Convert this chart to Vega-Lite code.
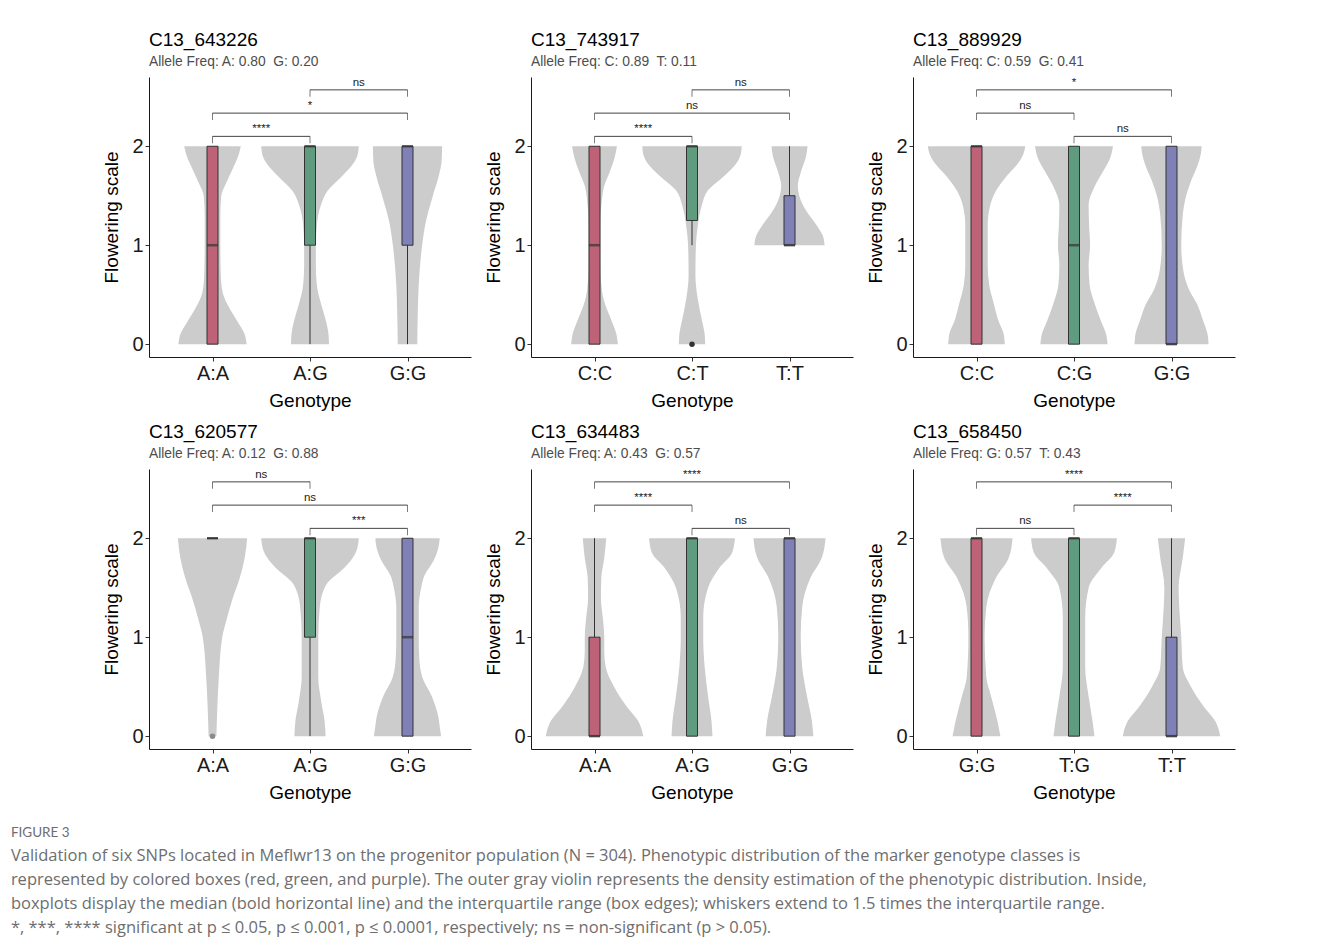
{
"$schema":"https://vega.github.io/schema/vega-lite/v6.json",
"padding":{"left":10,"top":31,"right":5,"bottom":5},
"background":"white",
"datasets":{
"violins":[
{"s":"C13_643226","g":1,"y":0,"l":0.65,"r":1.35},{"s":"C13_643226","g":1,"y":0.1,"l":0.67,"r":1.33},{"s":"C13_643226","g":1,"y":0.24,"l":0.75,"r":1.25},{"s":"C13_643226","g":1,"y":0.38,"l":0.835,"r":1.165},{"s":"C13_643226","g":1,"y":0.52,"l":0.895,"r":1.105},{"s":"C13_643226","g":1,"y":0.7,"l":0.915,"r":1.085},{"s":"C13_643226","g":1,"y":1,"l":0.92,"r":1.08},{"s":"C13_643226","g":1,"y":1.3,"l":0.92,"r":1.08},{"s":"C13_643226","g":1,"y":1.5,"l":0.91,"r":1.09},{"s":"C13_643226","g":1,"y":1.65,"l":0.85,"r":1.15},{"s":"C13_643226","g":1,"y":1.8,"l":0.78,"r":1.22},{"s":"C13_643226","g":1,"y":1.92,"l":0.73,"r":1.27},{"s":"C13_643226","g":1,"y":2,"l":0.71,"r":1.29},
{"s":"C13_643226","g":2,"y":0,"l":1.805,"r":2.195},{"s":"C13_643226","g":2,"y":0.1,"l":1.81,"r":2.19},{"s":"C13_643226","g":2,"y":0.25,"l":1.84,"r":2.16},{"s":"C13_643226","g":2,"y":0.4,"l":1.885,"r":2.115},{"s":"C13_643226","g":2,"y":0.6,"l":1.93,"r":2.07},{"s":"C13_643226","g":2,"y":0.8,"l":1.94,"r":2.06},{"s":"C13_643226","g":2,"y":1,"l":1.94,"r":2.06},{"s":"C13_643226","g":2,"y":1.2,"l":1.93,"r":2.07},{"s":"C13_643226","g":2,"y":1.4,"l":1.89,"r":2.11},{"s":"C13_643226","g":2,"y":1.55,"l":1.82,"r":2.18},{"s":"C13_643226","g":2,"y":1.7,"l":1.67,"r":2.33},{"s":"C13_643226","g":2,"y":1.82,"l":1.56,"r":2.44},{"s":"C13_643226","g":2,"y":1.92,"l":1.51,"r":2.49},{"s":"C13_643226","g":2,"y":2,"l":1.5,"r":2.5},
{"s":"C13_643226","g":3,"y":0,"l":2.9,"r":3.1},{"s":"C13_643226","g":3,"y":0.3,"l":2.895,"r":3.105},{"s":"C13_643226","g":3,"y":0.6,"l":2.885,"r":3.115},{"s":"C13_643226","g":3,"y":1,"l":2.85,"r":3.15},{"s":"C13_643226","g":3,"y":1.2,"l":2.82,"r":3.18},{"s":"C13_643226","g":3,"y":1.5,"l":2.74,"r":3.26},{"s":"C13_643226","g":3,"y":1.7,"l":2.68,"r":3.32},{"s":"C13_643226","g":3,"y":1.85,"l":2.65,"r":3.35},{"s":"C13_643226","g":3,"y":2,"l":2.645,"r":3.355},
{"s":"C13_743917","g":1,"y":0,"l":0.76,"r":1.24},{"s":"C13_743917","g":1,"y":0.1,"l":0.775,"r":1.225},{"s":"C13_743917","g":1,"y":0.25,"l":0.83,"r":1.17},{"s":"C13_743917","g":1,"y":0.4,"l":0.89,"r":1.11},{"s":"C13_743917","g":1,"y":0.55,"l":0.925,"r":1.075},{"s":"C13_743917","g":1,"y":0.8,"l":0.94,"r":1.06},{"s":"C13_743917","g":1,"y":1,"l":0.94,"r":1.06},{"s":"C13_743917","g":1,"y":1.2,"l":0.94,"r":1.06},{"s":"C13_743917","g":1,"y":1.45,"l":0.925,"r":1.075},{"s":"C13_743917","g":1,"y":1.6,"l":0.9,"r":1.1},{"s":"C13_743917","g":1,"y":1.75,"l":0.84,"r":1.16},{"s":"C13_743917","g":1,"y":1.9,"l":0.79,"r":1.21},{"s":"C13_743917","g":1,"y":2,"l":0.77,"r":1.23},
{"s":"C13_743917","g":2,"y":0,"l":1.865,"r":2.135},{"s":"C13_743917","g":2,"y":0.1,"l":1.87,"r":2.13},{"s":"C13_743917","g":2,"y":0.25,"l":1.9,"r":2.1},{"s":"C13_743917","g":2,"y":0.45,"l":1.94,"r":2.06},{"s":"C13_743917","g":2,"y":0.7,"l":1.965,"r":2.035},{"s":"C13_743917","g":2,"y":1,"l":1.96,"r":2.04},{"s":"C13_743917","g":2,"y":1.2,"l":1.94,"r":2.06},{"s":"C13_743917","g":2,"y":1.4,"l":1.9,"r":2.1},{"s":"C13_743917","g":2,"y":1.55,"l":1.84,"r":2.16},{"s":"C13_743917","g":2,"y":1.7,"l":1.67,"r":2.33},{"s":"C13_743917","g":2,"y":1.82,"l":1.55,"r":2.45},{"s":"C13_743917","g":2,"y":1.92,"l":1.5,"r":2.5},{"s":"C13_743917","g":2,"y":2,"l":1.49,"r":2.51},
{"s":"C13_743917","g":3,"y":1,"l":2.64,"r":3.36},{"s":"C13_743917","g":3,"y":1.1,"l":2.66,"r":3.34},{"s":"C13_743917","g":3,"y":1.2,"l":2.72,"r":3.28},{"s":"C13_743917","g":3,"y":1.35,"l":2.83,"r":3.17},{"s":"C13_743917","g":3,"y":1.5,"l":2.9,"r":3.1},{"s":"C13_743917","g":3,"y":1.6,"l":2.915,"r":3.085},{"s":"C13_743917","g":3,"y":1.75,"l":2.88,"r":3.12},{"s":"C13_743917","g":3,"y":1.9,"l":2.83,"r":3.17},{"s":"C13_743917","g":3,"y":2,"l":2.815,"r":3.185},
{"s":"C13_889929","g":1,"y":0,"l":0.71,"r":1.29},{"s":"C13_889929","g":1,"y":0.1,"l":0.72,"r":1.28},{"s":"C13_889929","g":1,"y":0.25,"l":0.78,"r":1.22},{"s":"C13_889929","g":1,"y":0.4,"l":0.82,"r":1.18},{"s":"C13_889929","g":1,"y":0.6,"l":0.87,"r":1.13},{"s":"C13_889929","g":1,"y":0.8,"l":0.885,"r":1.115},{"s":"C13_889929","g":1,"y":1,"l":0.885,"r":1.115},{"s":"C13_889929","g":1,"y":1.2,"l":0.885,"r":1.115},{"s":"C13_889929","g":1,"y":1.4,"l":0.86,"r":1.14},{"s":"C13_889929","g":1,"y":1.55,"l":0.8,"r":1.2},{"s":"C13_889929","g":1,"y":1.7,"l":0.69,"r":1.31},{"s":"C13_889929","g":1,"y":1.82,"l":0.58,"r":1.42},{"s":"C13_889929","g":1,"y":1.92,"l":0.52,"r":1.48},{"s":"C13_889929","g":1,"y":2,"l":0.5,"r":1.5},
{"s":"C13_889929","g":2,"y":0,"l":1.655,"r":2.345},{"s":"C13_889929","g":2,"y":0.1,"l":1.67,"r":2.33},{"s":"C13_889929","g":2,"y":0.25,"l":1.73,"r":2.27},{"s":"C13_889929","g":2,"y":0.4,"l":1.785,"r":2.215},{"s":"C13_889929","g":2,"y":0.6,"l":1.84,"r":2.16},{"s":"C13_889929","g":2,"y":0.8,"l":1.85,"r":2.15},{"s":"C13_889929","g":2,"y":1,"l":1.835,"r":2.165},{"s":"C13_889929","g":2,"y":1.2,"l":1.845,"r":2.155},{"s":"C13_889929","g":2,"y":1.4,"l":1.85,"r":2.15},{"s":"C13_889929","g":2,"y":1.6,"l":1.785,"r":2.215},{"s":"C13_889929","g":2,"y":1.75,"l":1.7,"r":2.3},{"s":"C13_889929","g":2,"y":1.88,"l":1.63,"r":2.37},{"s":"C13_889929","g":2,"y":2,"l":1.6,"r":2.4},
{"s":"C13_889929","g":3,"y":0,"l":2.62,"r":3.38},{"s":"C13_889929","g":3,"y":0.1,"l":2.63,"r":3.37},{"s":"C13_889929","g":3,"y":0.25,"l":2.68,"r":3.32},{"s":"C13_889929","g":3,"y":0.4,"l":2.735,"r":3.265},{"s":"C13_889929","g":3,"y":0.55,"l":2.82,"r":3.18},{"s":"C13_889929","g":3,"y":0.75,"l":2.88,"r":3.12},{"s":"C13_889929","g":3,"y":1,"l":2.9,"r":3.1},{"s":"C13_889929","g":3,"y":1.3,"l":2.885,"r":3.115},{"s":"C13_889929","g":3,"y":1.5,"l":2.85,"r":3.15},{"s":"C13_889929","g":3,"y":1.65,"l":2.8,"r":3.2},{"s":"C13_889929","g":3,"y":1.8,"l":2.735,"r":3.265},{"s":"C13_889929","g":3,"y":1.92,"l":2.7,"r":3.3},{"s":"C13_889929","g":3,"y":2,"l":2.69,"r":3.31},
{"s":"C13_620577","g":1,"y":0,"l":0.96,"r":1.04},{"s":"C13_620577","g":1,"y":0.3,"l":0.95,"r":1.05},{"s":"C13_620577","g":1,"y":0.6,"l":0.935,"r":1.065},{"s":"C13_620577","g":1,"y":1,"l":0.9,"r":1.1},{"s":"C13_620577","g":1,"y":1.2,"l":0.85,"r":1.15},{"s":"C13_620577","g":1,"y":1.4,"l":0.79,"r":1.21},{"s":"C13_620577","g":1,"y":1.6,"l":0.72,"r":1.28},{"s":"C13_620577","g":1,"y":1.8,"l":0.67,"r":1.33},{"s":"C13_620577","g":1,"y":2,"l":0.645,"r":1.355},
{"s":"C13_620577","g":2,"y":0,"l":1.84,"r":2.16},{"s":"C13_620577","g":2,"y":0.15,"l":1.85,"r":2.15},{"s":"C13_620577","g":2,"y":0.35,"l":1.885,"r":2.115},{"s":"C13_620577","g":2,"y":0.6,"l":1.915,"r":2.085},{"s":"C13_620577","g":2,"y":1,"l":1.915,"r":2.085},{"s":"C13_620577","g":2,"y":1.3,"l":1.9,"r":2.1},{"s":"C13_620577","g":2,"y":1.45,"l":1.87,"r":2.13},{"s":"C13_620577","g":2,"y":1.55,"l":1.82,"r":2.18},{"s":"C13_620577","g":2,"y":1.7,"l":1.65,"r":2.35},{"s":"C13_620577","g":2,"y":1.82,"l":1.55,"r":2.45},{"s":"C13_620577","g":2,"y":1.92,"l":1.51,"r":2.49},{"s":"C13_620577","g":2,"y":2,"l":1.5,"r":2.5},
{"s":"C13_620577","g":3,"y":0,"l":2.655,"r":3.345},{"s":"C13_620577","g":3,"y":0.1,"l":2.67,"r":3.33},{"s":"C13_620577","g":3,"y":0.2,"l":2.685,"r":3.315},{"s":"C13_620577","g":3,"y":0.4,"l":2.75,"r":3.25},{"s":"C13_620577","g":3,"y":0.6,"l":2.85,"r":3.15},{"s":"C13_620577","g":3,"y":0.8,"l":2.88,"r":3.12},{"s":"C13_620577","g":3,"y":1,"l":2.885,"r":3.115},{"s":"C13_620577","g":3,"y":1.3,"l":2.885,"r":3.115},{"s":"C13_620577","g":3,"y":1.5,"l":2.86,"r":3.14},{"s":"C13_620577","g":3,"y":1.6,"l":2.835,"r":3.165},{"s":"C13_620577","g":3,"y":1.8,"l":2.72,"r":3.28},{"s":"C13_620577","g":3,"y":1.92,"l":2.68,"r":3.32},{"s":"C13_620577","g":3,"y":2,"l":2.67,"r":3.33},
{"s":"C13_634483","g":1,"y":0,"l":0.5,"r":1.5},{"s":"C13_634483","g":1,"y":0.08,"l":0.52,"r":1.48},{"s":"C13_634483","g":1,"y":0.15,"l":0.55,"r":1.45},{"s":"C13_634483","g":1,"y":0.3,"l":0.67,"r":1.33},{"s":"C13_634483","g":1,"y":0.5,"l":0.8,"r":1.2},{"s":"C13_634483","g":1,"y":0.7,"l":0.885,"r":1.115},{"s":"C13_634483","g":1,"y":0.85,"l":0.9,"r":1.1},{"s":"C13_634483","g":1,"y":1,"l":0.9,"r":1.1},{"s":"C13_634483","g":1,"y":1.15,"l":0.91,"r":1.09},{"s":"C13_634483","g":1,"y":1.4,"l":0.934,"r":1.066},{"s":"C13_634483","g":1,"y":1.6,"l":0.93,"r":1.07},{"s":"C13_634483","g":1,"y":1.8,"l":0.9,"r":1.1},{"s":"C13_634483","g":1,"y":2,"l":0.88,"r":1.12},
{"s":"C13_634483","g":2,"y":0,"l":1.79,"r":2.21},{"s":"C13_634483","g":2,"y":0.15,"l":1.8,"r":2.2},{"s":"C13_634483","g":2,"y":0.4,"l":1.835,"r":2.165},{"s":"C13_634483","g":2,"y":0.7,"l":1.87,"r":2.13},{"s":"C13_634483","g":2,"y":1,"l":1.885,"r":2.115},{"s":"C13_634483","g":2,"y":1.2,"l":1.885,"r":2.115},{"s":"C13_634483","g":2,"y":1.5,"l":1.835,"r":2.165},{"s":"C13_634483","g":2,"y":1.7,"l":1.72,"r":2.28},{"s":"C13_634483","g":2,"y":1.85,"l":1.59,"r":2.41},{"s":"C13_634483","g":2,"y":2,"l":1.56,"r":2.44},
{"s":"C13_634483","g":3,"y":0,"l":2.755,"r":3.245},{"s":"C13_634483","g":3,"y":0.15,"l":2.77,"r":3.23},{"s":"C13_634483","g":3,"y":0.4,"l":2.82,"r":3.18},{"s":"C13_634483","g":3,"y":0.7,"l":2.87,"r":3.13},{"s":"C13_634483","g":3,"y":1,"l":2.885,"r":3.115},{"s":"C13_634483","g":3,"y":1.3,"l":2.87,"r":3.13},{"s":"C13_634483","g":3,"y":1.6,"l":2.785,"r":3.215},{"s":"C13_634483","g":3,"y":1.8,"l":2.67,"r":3.33},{"s":"C13_634483","g":3,"y":2,"l":2.63,"r":3.37},
{"s":"C13_658450","g":1,"y":0,"l":0.755,"r":1.245},{"s":"C13_658450","g":1,"y":0.15,"l":0.785,"r":1.215},{"s":"C13_658450","g":1,"y":0.4,"l":0.85,"r":1.15},{"s":"C13_658450","g":1,"y":0.6,"l":0.9,"r":1.1},{"s":"C13_658450","g":1,"y":1,"l":0.917,"r":1.083},{"s":"C13_658450","g":1,"y":1.3,"l":0.9,"r":1.1},{"s":"C13_658450","g":1,"y":1.6,"l":0.8,"r":1.2},{"s":"C13_658450","g":1,"y":1.8,"l":0.67,"r":1.33},{"s":"C13_658450","g":1,"y":2,"l":0.63,"r":1.37},
{"s":"C13_658450","g":2,"y":0,"l":1.79,"r":2.21},{"s":"C13_658450","g":2,"y":0.15,"l":1.81,"r":2.19},{"s":"C13_658450","g":2,"y":0.4,"l":1.85,"r":2.15},{"s":"C13_658450","g":2,"y":0.7,"l":1.885,"r":2.115},{"s":"C13_658450","g":2,"y":1,"l":1.885,"r":2.115},{"s":"C13_658450","g":2,"y":1.2,"l":1.885,"r":2.115},{"s":"C13_658450","g":2,"y":1.5,"l":1.85,"r":2.15},{"s":"C13_658450","g":2,"y":1.7,"l":1.72,"r":2.28},{"s":"C13_658450","g":2,"y":1.85,"l":1.59,"r":2.41},{"s":"C13_658450","g":2,"y":2,"l":1.56,"r":2.44},
{"s":"C13_658450","g":3,"y":0,"l":2.5,"r":3.5},{"s":"C13_658450","g":3,"y":0.08,"l":2.52,"r":3.48},{"s":"C13_658450","g":3,"y":0.15,"l":2.55,"r":3.45},{"s":"C13_658450","g":3,"y":0.3,"l":2.67,"r":3.33},{"s":"C13_658450","g":3,"y":0.5,"l":2.8,"r":3.2},{"s":"C13_658450","g":3,"y":0.7,"l":2.885,"r":3.115},{"s":"C13_658450","g":3,"y":1,"l":2.9,"r":3.1},{"s":"C13_658450","g":3,"y":1.3,"l":2.92,"r":3.08},{"s":"C13_658450","g":3,"y":1.5,"l":2.927,"r":3.073},{"s":"C13_658450","g":3,"y":1.8,"l":2.885,"r":3.115},{"s":"C13_658450","g":3,"y":2,"l":2.86,"r":3.14}
],
"boxes":[
{"s":"C13_643226","g":1,"q1":0,"med":1,"q3":2,"lo":0,"hi":2},{"s":"C13_643226","g":2,"q1":1,"med":2,"q3":2,"lo":0,"hi":2},{"s":"C13_643226","g":3,"q1":1,"med":2,"q3":2,"lo":0,"hi":2},
{"s":"C13_743917","g":1,"q1":0,"med":1,"q3":2,"lo":0,"hi":2},{"s":"C13_743917","g":2,"q1":1.25,"med":2,"q3":2,"lo":1,"hi":2},{"s":"C13_743917","g":3,"q1":1,"med":1,"q3":1.5,"lo":1,"hi":2},
{"s":"C13_889929","g":1,"q1":0,"med":2,"q3":2,"lo":0,"hi":2},{"s":"C13_889929","g":2,"q1":0,"med":1,"q3":2,"lo":0,"hi":2},{"s":"C13_889929","g":3,"q1":0,"med":0,"q3":2,"lo":0,"hi":2},
{"s":"C13_620577","g":1,"q1":2,"med":2,"q3":2,"lo":2,"hi":2},{"s":"C13_620577","g":2,"q1":1,"med":2,"q3":2,"lo":0,"hi":2},{"s":"C13_620577","g":3,"q1":0,"med":1,"q3":2,"lo":0,"hi":2},
{"s":"C13_634483","g":1,"q1":0,"med":0,"q3":1,"lo":0,"hi":2},{"s":"C13_634483","g":2,"q1":0,"med":2,"q3":2,"lo":0,"hi":2},{"s":"C13_634483","g":3,"q1":0,"med":2,"q3":2,"lo":0,"hi":2},
{"s":"C13_658450","g":1,"q1":0,"med":2,"q3":2,"lo":0,"hi":2},{"s":"C13_658450","g":2,"q1":0,"med":2,"q3":2,"lo":0,"hi":2},{"s":"C13_658450","g":3,"q1":0,"med":0,"q3":1,"lo":0,"hi":2}
],
"outliers":[
{"s":"C13_743917","g":2,"v":0},{"s":"C13_620577","g":1,"v":0}
],
"brackets":[
{"s":"C13_643226","a":1,"b":2,"m":1.5,"y":2.1,"lab":"****"},{"s":"C13_643226","a":1,"b":3,"m":2,"y":2.335,"lab":"*"},{"s":"C13_643226","a":2,"b":3,"m":2.5,"y":2.57,"lab":"ns"},
{"s":"C13_743917","a":1,"b":2,"m":1.5,"y":2.1,"lab":"****"},{"s":"C13_743917","a":1,"b":3,"m":2,"y":2.335,"lab":"ns"},{"s":"C13_743917","a":2,"b":3,"m":2.5,"y":2.57,"lab":"ns"},
{"s":"C13_889929","a":2,"b":3,"m":2.5,"y":2.1,"lab":"ns"},{"s":"C13_889929","a":1,"b":2,"m":1.5,"y":2.335,"lab":"ns"},{"s":"C13_889929","a":1,"b":3,"m":2,"y":2.57,"lab":"*"},
{"s":"C13_620577","a":2,"b":3,"m":2.5,"y":2.1,"lab":"***"},{"s":"C13_620577","a":1,"b":3,"m":2,"y":2.335,"lab":"ns"},{"s":"C13_620577","a":1,"b":2,"m":1.5,"y":2.57,"lab":"ns"},
{"s":"C13_634483","a":2,"b":3,"m":2.5,"y":2.1,"lab":"ns"},{"s":"C13_634483","a":1,"b":2,"m":1.5,"y":2.335,"lab":"****"},{"s":"C13_634483","a":1,"b":3,"m":2,"y":2.57,"lab":"****"},
{"s":"C13_658450","a":1,"b":2,"m":1.5,"y":2.1,"lab":"ns"},{"s":"C13_658450","a":2,"b":3,"m":2.5,"y":2.335,"lab":"****"},{"s":"C13_658450","a":1,"b":3,"m":2,"y":2.57,"lab":"****"}
]
},
"title":{
"text":"FIGURE 3",
"subtitle":[
"Validation of six SNPs located in Meflwr13 on the progenitor population (N = 304). Phenotypic distribution of the marker genotype classes is",
"represented by colored boxes (red, green, and purple). The outer gray violin represents the density estimation of the phenotypic distribution. Inside,",
"boxplots display the median (bold horizontal line) and the interquartile range (box edges); whiskers extend to 1.5 times the interquartile range.",
"*, ***, **** significant at p ≤ 0.05, p ≤ 0.001, p ≤ 0.0001, respectively; ns = non-significant (p > 0.05)."
],
"orient":"bottom","anchor":"start","frame":"bounds","dx":-92,"offset":24,
"font":"Lato","fontSize":13.5,"fontWeight":"normal","color":"#6e6e6e",
"subtitleFont":"Open Sans","subtitleFontSize":16.5,"subtitleColor":"#6e6e6e","subtitleLineHeight":24,"subtitlePadding":8
},
"columns":3,
"bounds":"flush",
"spacing":{"row":112,"column":60},
"concat":[
{"width":322,"height":280,
"title":{"text":"C13_643226","subtitle":"Allele Freq: A: 0.80\u00a0 G: 0.20"},
"layer":[
{"data":{"name":"violins"},"transform":[{"filter":"datum.s=='C13_643226'"}],"mark":{"type":"area","orient":"horizontal","interpolate":"monotone","color":"#cccccc"},
"encoding":{"x":{"field":"l","type":"quantitative","scale":{"domain":[0.4,3.6],"nice":false,"zero":false},"axis":{"title":"Genotype","values":[1,2,3],"labelExpr":"datum.value==1?'A:A':datum.value==2?'A:G':'G:G'"}},"x2":{"field":"r"},"y":{"field":"y","type":"quantitative","scale":{"domain":[-0.13,2.7],"nice":false,"zero":false},"axis":{"title":"Flowering scale","values":[0,1,2],"format":"d"}},"detail":{"field":"g","type":"nominal"}}},
{"data":{"name":"boxes"},"transform":[{"filter":"datum.s=='C13_643226'"}],"mark":{"type":"rule","color":"#333333","strokeWidth":1},"encoding":{"x":{"field":"g","type":"quantitative"},"y":{"field":"lo","type":"quantitative"},"y2":{"field":"hi"}}},
{"data":{"name":"boxes"},"transform":[{"filter":"datum.s=='C13_643226'"}],"mark":{"type":"bar","orient":"vertical","width":11,"stroke":"#333333","strokeWidth":1},"encoding":{"x":{"field":"g","type":"quantitative"},"y":{"field":"q1","type":"quantitative"},"y2":{"field":"q3"},"fill":{"field":"g","type":"nominal","scale":{"domain":[1,2,3],"range":["#BD6277","#5F9C7F","#7F81B6"]},"legend":null}}},
{"data":{"name":"boxes"},"transform":[{"filter":"datum.s=='C13_643226'"}],"mark":{"type":"tick","orient":"horizontal","size":11,"thickness":2.5,"color":"#333333"},"encoding":{"x":{"field":"g","type":"quantitative"},"y":{"field":"med","type":"quantitative"}}},
{"data":{"name":"brackets"},"transform":[{"filter":"datum.s=='C13_643226'"}],"mark":{"type":"rule","color":"#444444","strokeWidth":1},"encoding":{"x":{"field":"a","type":"quantitative"},"x2":{"field":"b"},"y":{"field":"y","type":"quantitative"}}},
{"data":{"name":"brackets"},"transform":[{"filter":"datum.s=='C13_643226'"}],"mark":{"type":"tick","orient":"vertical","size":7,"thickness":1,"yOffset":3.5,"color":"#444444"},"encoding":{"x":{"field":"a","type":"quantitative"},"y":{"field":"y","type":"quantitative"}}},
{"data":{"name":"brackets"},"transform":[{"filter":"datum.s=='C13_643226'"}],"mark":{"type":"tick","orient":"vertical","size":7,"thickness":1,"yOffset":3.5,"color":"#444444"},"encoding":{"x":{"field":"b","type":"quantitative"},"y":{"field":"y","type":"quantitative"}}},
{"data":{"name":"brackets"},"transform":[{"filter":"datum.s=='C13_643226'"}],"mark":{"type":"text","baseline":"bottom","dy":-2,"fontSize":11.5,"color":"#222222"},"encoding":{"x":{"field":"m","type":"quantitative"},"y":{"field":"y","type":"quantitative"},"text":{"field":"lab"}}}
]},
{"width":322,"height":280,
"title":{"text":"C13_743917","subtitle":"Allele Freq: C: 0.89\u00a0 T: 0.11"},
"layer":[
{"data":{"name":"violins"},"transform":[{"filter":"datum.s=='C13_743917'"}],"mark":{"type":"area","orient":"horizontal","interpolate":"monotone","color":"#cccccc"},
"encoding":{"x":{"field":"l","type":"quantitative","scale":{"domain":[0.4,3.6],"nice":false,"zero":false},"axis":{"title":"Genotype","values":[1,2,3],"labelExpr":"datum.value==1?'C:C':datum.value==2?'C:T':'T:T'"}},"x2":{"field":"r"},"y":{"field":"y","type":"quantitative","scale":{"domain":[-0.13,2.7],"nice":false,"zero":false},"axis":{"title":"Flowering scale","values":[0,1,2],"format":"d"}},"detail":{"field":"g","type":"nominal"}}},
{"data":{"name":"boxes"},"transform":[{"filter":"datum.s=='C13_743917'"}],"mark":{"type":"rule","color":"#333333","strokeWidth":1},"encoding":{"x":{"field":"g","type":"quantitative"},"y":{"field":"lo","type":"quantitative"},"y2":{"field":"hi"}}},
{"data":{"name":"boxes"},"transform":[{"filter":"datum.s=='C13_743917'"}],"mark":{"type":"bar","orient":"vertical","width":11,"stroke":"#333333","strokeWidth":1},"encoding":{"x":{"field":"g","type":"quantitative"},"y":{"field":"q1","type":"quantitative"},"y2":{"field":"q3"},"fill":{"field":"g","type":"nominal","scale":{"domain":[1,2,3],"range":["#BD6277","#5F9C7F","#7F81B6"]},"legend":null}}},
{"data":{"name":"boxes"},"transform":[{"filter":"datum.s=='C13_743917'"}],"mark":{"type":"tick","orient":"horizontal","size":11,"thickness":2.5,"color":"#333333"},"encoding":{"x":{"field":"g","type":"quantitative"},"y":{"field":"med","type":"quantitative"}}},
{"data":{"name":"outliers"},"transform":[{"filter":"datum.s=='C13_743917'"}],"mark":{"type":"point","filled":true,"size":30,"opacity":1,"color":"#333333"},"encoding":{"x":{"field":"g","type":"quantitative"},"y":{"field":"v","type":"quantitative"}}},
{"data":{"name":"brackets"},"transform":[{"filter":"datum.s=='C13_743917'"}],"mark":{"type":"rule","color":"#444444","strokeWidth":1},"encoding":{"x":{"field":"a","type":"quantitative"},"x2":{"field":"b"},"y":{"field":"y","type":"quantitative"}}},
{"data":{"name":"brackets"},"transform":[{"filter":"datum.s=='C13_743917'"}],"mark":{"type":"tick","orient":"vertical","size":7,"thickness":1,"yOffset":3.5,"color":"#444444"},"encoding":{"x":{"field":"a","type":"quantitative"},"y":{"field":"y","type":"quantitative"}}},
{"data":{"name":"brackets"},"transform":[{"filter":"datum.s=='C13_743917'"}],"mark":{"type":"tick","orient":"vertical","size":7,"thickness":1,"yOffset":3.5,"color":"#444444"},"encoding":{"x":{"field":"b","type":"quantitative"},"y":{"field":"y","type":"quantitative"}}},
{"data":{"name":"brackets"},"transform":[{"filter":"datum.s=='C13_743917'"}],"mark":{"type":"text","baseline":"bottom","dy":-2,"fontSize":11.5,"color":"#222222"},"encoding":{"x":{"field":"m","type":"quantitative"},"y":{"field":"y","type":"quantitative"},"text":{"field":"lab"}}}
]},
{"width":322,"height":280,
"title":{"text":"C13_889929","subtitle":"Allele Freq: C: 0.59\u00a0 G: 0.41"},
"layer":[
{"data":{"name":"violins"},"transform":[{"filter":"datum.s=='C13_889929'"}],"mark":{"type":"area","orient":"horizontal","interpolate":"monotone","color":"#cccccc"},
"encoding":{"x":{"field":"l","type":"quantitative","scale":{"domain":[0.4,3.6],"nice":false,"zero":false},"axis":{"title":"Genotype","values":[1,2,3],"labelExpr":"datum.value==1?'C:C':datum.value==2?'C:G':'G:G'"}},"x2":{"field":"r"},"y":{"field":"y","type":"quantitative","scale":{"domain":[-0.13,2.7],"nice":false,"zero":false},"axis":{"title":"Flowering scale","values":[0,1,2],"format":"d"}},"detail":{"field":"g","type":"nominal"}}},
{"data":{"name":"boxes"},"transform":[{"filter":"datum.s=='C13_889929'"}],"mark":{"type":"rule","color":"#333333","strokeWidth":1},"encoding":{"x":{"field":"g","type":"quantitative"},"y":{"field":"lo","type":"quantitative"},"y2":{"field":"hi"}}},
{"data":{"name":"boxes"},"transform":[{"filter":"datum.s=='C13_889929'"}],"mark":{"type":"bar","orient":"vertical","width":11,"stroke":"#333333","strokeWidth":1},"encoding":{"x":{"field":"g","type":"quantitative"},"y":{"field":"q1","type":"quantitative"},"y2":{"field":"q3"},"fill":{"field":"g","type":"nominal","scale":{"domain":[1,2,3],"range":["#BD6277","#5F9C7F","#7F81B6"]},"legend":null}}},
{"data":{"name":"boxes"},"transform":[{"filter":"datum.s=='C13_889929'"}],"mark":{"type":"tick","orient":"horizontal","size":11,"thickness":2.5,"color":"#333333"},"encoding":{"x":{"field":"g","type":"quantitative"},"y":{"field":"med","type":"quantitative"}}},
{"data":{"name":"brackets"},"transform":[{"filter":"datum.s=='C13_889929'"}],"mark":{"type":"rule","color":"#444444","strokeWidth":1},"encoding":{"x":{"field":"a","type":"quantitative"},"x2":{"field":"b"},"y":{"field":"y","type":"quantitative"}}},
{"data":{"name":"brackets"},"transform":[{"filter":"datum.s=='C13_889929'"}],"mark":{"type":"tick","orient":"vertical","size":7,"thickness":1,"yOffset":3.5,"color":"#444444"},"encoding":{"x":{"field":"a","type":"quantitative"},"y":{"field":"y","type":"quantitative"}}},
{"data":{"name":"brackets"},"transform":[{"filter":"datum.s=='C13_889929'"}],"mark":{"type":"tick","orient":"vertical","size":7,"thickness":1,"yOffset":3.5,"color":"#444444"},"encoding":{"x":{"field":"b","type":"quantitative"},"y":{"field":"y","type":"quantitative"}}},
{"data":{"name":"brackets"},"transform":[{"filter":"datum.s=='C13_889929'"}],"mark":{"type":"text","baseline":"bottom","dy":-2,"fontSize":11.5,"color":"#222222"},"encoding":{"x":{"field":"m","type":"quantitative"},"y":{"field":"y","type":"quantitative"},"text":{"field":"lab"}}}
]},
{"width":322,"height":280,
"title":{"text":"C13_620577","subtitle":"Allele Freq: A: 0.12\u00a0 G: 0.88"},
"layer":[
{"data":{"name":"violins"},"transform":[{"filter":"datum.s=='C13_620577'"}],"mark":{"type":"area","orient":"horizontal","interpolate":"monotone","color":"#cccccc"},
"encoding":{"x":{"field":"l","type":"quantitative","scale":{"domain":[0.4,3.6],"nice":false,"zero":false},"axis":{"title":"Genotype","values":[1,2,3],"labelExpr":"datum.value==1?'A:A':datum.value==2?'A:G':'G:G'"}},"x2":{"field":"r"},"y":{"field":"y","type":"quantitative","scale":{"domain":[-0.13,2.7],"nice":false,"zero":false},"axis":{"title":"Flowering scale","values":[0,1,2],"format":"d"}},"detail":{"field":"g","type":"nominal"}}},
{"data":{"name":"boxes"},"transform":[{"filter":"datum.s=='C13_620577'"}],"mark":{"type":"rule","color":"#333333","strokeWidth":1},"encoding":{"x":{"field":"g","type":"quantitative"},"y":{"field":"lo","type":"quantitative"},"y2":{"field":"hi"}}},
{"data":{"name":"boxes"},"transform":[{"filter":"datum.s=='C13_620577'"}],"mark":{"type":"bar","orient":"vertical","width":11,"stroke":"#333333","strokeWidth":1},"encoding":{"x":{"field":"g","type":"quantitative"},"y":{"field":"q1","type":"quantitative"},"y2":{"field":"q3"},"fill":{"field":"g","type":"nominal","scale":{"domain":[1,2,3],"range":["#BD6277","#5F9C7F","#7F81B6"]},"legend":null}}},
{"data":{"name":"boxes"},"transform":[{"filter":"datum.s=='C13_620577'"}],"mark":{"type":"tick","orient":"horizontal","size":11,"thickness":2.5,"color":"#333333"},"encoding":{"x":{"field":"g","type":"quantitative"},"y":{"field":"med","type":"quantitative"}}},
{"data":{"name":"outliers"},"transform":[{"filter":"datum.s=='C13_620577'"}],"mark":{"type":"point","filled":true,"size":30,"opacity":1,"color":"#8a8a8a"},"encoding":{"x":{"field":"g","type":"quantitative"},"y":{"field":"v","type":"quantitative"}}},
{"data":{"name":"brackets"},"transform":[{"filter":"datum.s=='C13_620577'"}],"mark":{"type":"rule","color":"#444444","strokeWidth":1},"encoding":{"x":{"field":"a","type":"quantitative"},"x2":{"field":"b"},"y":{"field":"y","type":"quantitative"}}},
{"data":{"name":"brackets"},"transform":[{"filter":"datum.s=='C13_620577'"}],"mark":{"type":"tick","orient":"vertical","size":7,"thickness":1,"yOffset":3.5,"color":"#444444"},"encoding":{"x":{"field":"a","type":"quantitative"},"y":{"field":"y","type":"quantitative"}}},
{"data":{"name":"brackets"},"transform":[{"filter":"datum.s=='C13_620577'"}],"mark":{"type":"tick","orient":"vertical","size":7,"thickness":1,"yOffset":3.5,"color":"#444444"},"encoding":{"x":{"field":"b","type":"quantitative"},"y":{"field":"y","type":"quantitative"}}},
{"data":{"name":"brackets"},"transform":[{"filter":"datum.s=='C13_620577'"}],"mark":{"type":"text","baseline":"bottom","dy":-2,"fontSize":11.5,"color":"#222222"},"encoding":{"x":{"field":"m","type":"quantitative"},"y":{"field":"y","type":"quantitative"},"text":{"field":"lab"}}}
]},
{"width":322,"height":280,
"title":{"text":"C13_634483","subtitle":"Allele Freq: A: 0.43\u00a0 G: 0.57"},
"layer":[
{"data":{"name":"violins"},"transform":[{"filter":"datum.s=='C13_634483'"}],"mark":{"type":"area","orient":"horizontal","interpolate":"monotone","color":"#cccccc"},
"encoding":{"x":{"field":"l","type":"quantitative","scale":{"domain":[0.4,3.6],"nice":false,"zero":false},"axis":{"title":"Genotype","values":[1,2,3],"labelExpr":"datum.value==1?'A:A':datum.value==2?'A:G':'G:G'"}},"x2":{"field":"r"},"y":{"field":"y","type":"quantitative","scale":{"domain":[-0.13,2.7],"nice":false,"zero":false},"axis":{"title":"Flowering scale","values":[0,1,2],"format":"d"}},"detail":{"field":"g","type":"nominal"}}},
{"data":{"name":"boxes"},"transform":[{"filter":"datum.s=='C13_634483'"}],"mark":{"type":"rule","color":"#333333","strokeWidth":1},"encoding":{"x":{"field":"g","type":"quantitative"},"y":{"field":"lo","type":"quantitative"},"y2":{"field":"hi"}}},
{"data":{"name":"boxes"},"transform":[{"filter":"datum.s=='C13_634483'"}],"mark":{"type":"bar","orient":"vertical","width":11,"stroke":"#333333","strokeWidth":1},"encoding":{"x":{"field":"g","type":"quantitative"},"y":{"field":"q1","type":"quantitative"},"y2":{"field":"q3"},"fill":{"field":"g","type":"nominal","scale":{"domain":[1,2,3],"range":["#BD6277","#5F9C7F","#7F81B6"]},"legend":null}}},
{"data":{"name":"boxes"},"transform":[{"filter":"datum.s=='C13_634483'"}],"mark":{"type":"tick","orient":"horizontal","size":11,"thickness":2.5,"color":"#333333"},"encoding":{"x":{"field":"g","type":"quantitative"},"y":{"field":"med","type":"quantitative"}}},
{"data":{"name":"brackets"},"transform":[{"filter":"datum.s=='C13_634483'"}],"mark":{"type":"rule","color":"#444444","strokeWidth":1},"encoding":{"x":{"field":"a","type":"quantitative"},"x2":{"field":"b"},"y":{"field":"y","type":"quantitative"}}},
{"data":{"name":"brackets"},"transform":[{"filter":"datum.s=='C13_634483'"}],"mark":{"type":"tick","orient":"vertical","size":7,"thickness":1,"yOffset":3.5,"color":"#444444"},"encoding":{"x":{"field":"a","type":"quantitative"},"y":{"field":"y","type":"quantitative"}}},
{"data":{"name":"brackets"},"transform":[{"filter":"datum.s=='C13_634483'"}],"mark":{"type":"tick","orient":"vertical","size":7,"thickness":1,"yOffset":3.5,"color":"#444444"},"encoding":{"x":{"field":"b","type":"quantitative"},"y":{"field":"y","type":"quantitative"}}},
{"data":{"name":"brackets"},"transform":[{"filter":"datum.s=='C13_634483'"}],"mark":{"type":"text","baseline":"bottom","dy":-2,"fontSize":11.5,"color":"#222222"},"encoding":{"x":{"field":"m","type":"quantitative"},"y":{"field":"y","type":"quantitative"},"text":{"field":"lab"}}}
]},
{"width":322,"height":280,
"title":{"text":"C13_658450","subtitle":"Allele Freq: G: 0.57\u00a0 T: 0.43"},
"layer":[
{"data":{"name":"violins"},"transform":[{"filter":"datum.s=='C13_658450'"}],"mark":{"type":"area","orient":"horizontal","interpolate":"monotone","color":"#cccccc"},
"encoding":{"x":{"field":"l","type":"quantitative","scale":{"domain":[0.4,3.6],"nice":false,"zero":false},"axis":{"title":"Genotype","values":[1,2,3],"labelExpr":"datum.value==1?'G:G':datum.value==2?'T:G':'T:T'"}},"x2":{"field":"r"},"y":{"field":"y","type":"quantitative","scale":{"domain":[-0.13,2.7],"nice":false,"zero":false},"axis":{"title":"Flowering scale","values":[0,1,2],"format":"d"}},"detail":{"field":"g","type":"nominal"}}},
{"data":{"name":"boxes"},"transform":[{"filter":"datum.s=='C13_658450'"}],"mark":{"type":"rule","color":"#333333","strokeWidth":1},"encoding":{"x":{"field":"g","type":"quantitative"},"y":{"field":"lo","type":"quantitative"},"y2":{"field":"hi"}}},
{"data":{"name":"boxes"},"transform":[{"filter":"datum.s=='C13_658450'"}],"mark":{"type":"bar","orient":"vertical","width":11,"stroke":"#333333","strokeWidth":1},"encoding":{"x":{"field":"g","type":"quantitative"},"y":{"field":"q1","type":"quantitative"},"y2":{"field":"q3"},"fill":{"field":"g","type":"nominal","scale":{"domain":[1,2,3],"range":["#BD6277","#5F9C7F","#7F81B6"]},"legend":null}}},
{"data":{"name":"boxes"},"transform":[{"filter":"datum.s=='C13_658450'"}],"mark":{"type":"tick","orient":"horizontal","size":11,"thickness":2.5,"color":"#333333"},"encoding":{"x":{"field":"g","type":"quantitative"},"y":{"field":"med","type":"quantitative"}}},
{"data":{"name":"brackets"},"transform":[{"filter":"datum.s=='C13_658450'"}],"mark":{"type":"rule","color":"#444444","strokeWidth":1},"encoding":{"x":{"field":"a","type":"quantitative"},"x2":{"field":"b"},"y":{"field":"y","type":"quantitative"}}},
{"data":{"name":"brackets"},"transform":[{"filter":"datum.s=='C13_658450'"}],"mark":{"type":"tick","orient":"vertical","size":7,"thickness":1,"yOffset":3.5,"color":"#444444"},"encoding":{"x":{"field":"a","type":"quantitative"},"y":{"field":"y","type":"quantitative"}}},
{"data":{"name":"brackets"},"transform":[{"filter":"datum.s=='C13_658450'"}],"mark":{"type":"tick","orient":"vertical","size":7,"thickness":1,"yOffset":3.5,"color":"#444444"},"encoding":{"x":{"field":"b","type":"quantitative"},"y":{"field":"y","type":"quantitative"}}},
{"data":{"name":"brackets"},"transform":[{"filter":"datum.s=='C13_658450'"}],"mark":{"type":"text","baseline":"bottom","dy":-2,"fontSize":11.5,"color":"#222222"},"encoding":{"x":{"field":"m","type":"quantitative"},"y":{"field":"y","type":"quantitative"},"text":{"field":"lab"}}}
]}
],
"config":{
"view":{"stroke":null},
"font":"Liberation Sans",
"axis":{"grid":false,"domainColor":"#1a1a1a","tickColor":"#333333","tickSize":4,"labelFont":"Liberation Sans","labelFontSize":20,"labelColor":"#1a1a1a","labelPadding":2,"titleFont":"Liberation Sans","titleFontSize":19,"titleFontWeight":"normal","titleColor":"#000000"},
"axisX":{"titlePadding":8},
"axisY":{"titlePadding":10},
"title":{"anchor":"start","frame":"group","font":"Liberation Sans","fontSize":19,"fontWeight":"normal","color":"#000000","subtitleFont":"Liberation Sans","subtitleFontSize":13.8,"subtitleColor":"#4d4d4d","offset":8,"subtitlePadding":5}
}
}
